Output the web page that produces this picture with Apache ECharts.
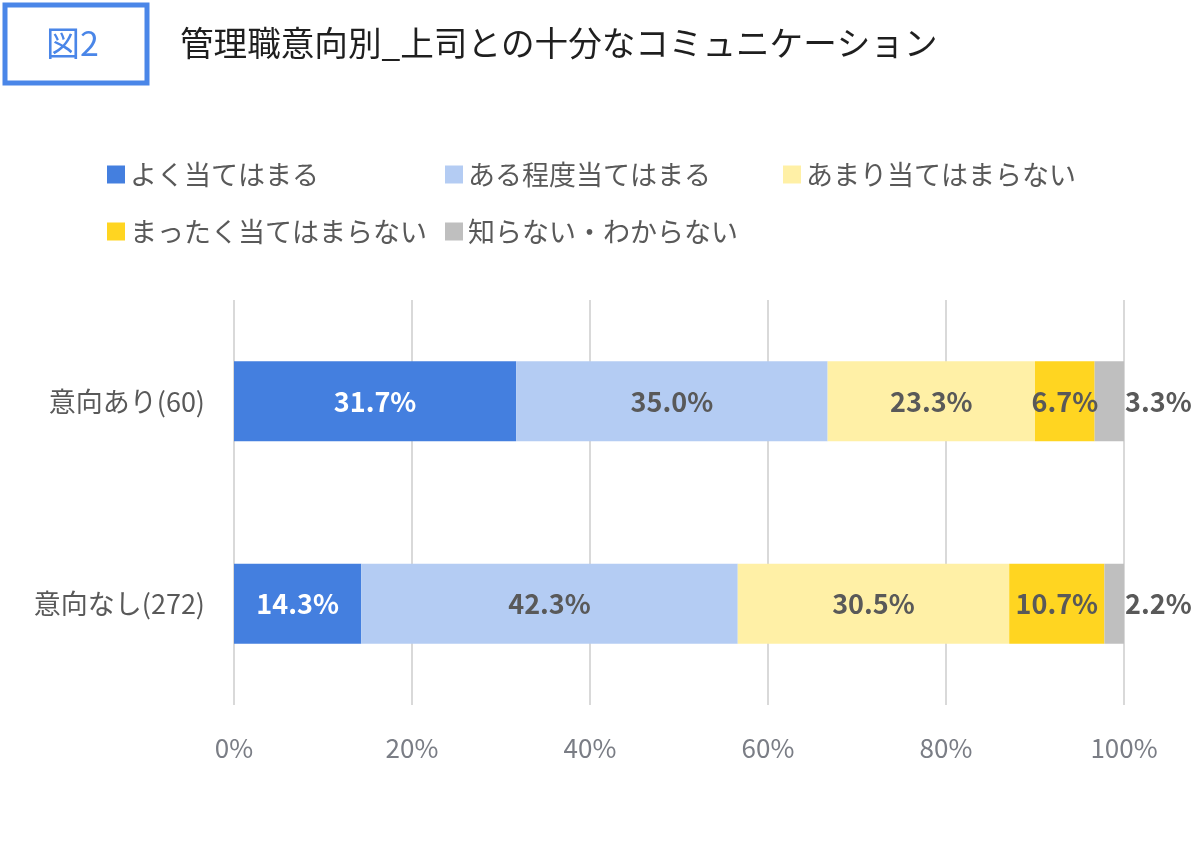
<!DOCTYPE html>
<html>
<head>
<meta charset="utf-8">
<script src="https://cdn.jsdelivr.net/npm/echarts@6/dist/echarts.min.js"></script>
<style>
  html, body { margin: 0; padding: 0; background: #fff; }
  #chart { width: 1200px; height: 856px; }
</style>
</head>
<body>
<div id="chart"></div>
<script>
// カテゴリ（上から順）
var categories = ['意向あり(60)', '意向なし(272)'];

// 回答の選択肢
var seriesNames = ['よく当てはまる', 'ある程度当てはまる', 'あまり当てはまらない', 'まったく当てはまらない', '知らない・わからない'];

// 各選択肢の割合（%）
var veryTrue = [31.7, 14.3];
var someTrue = [35.0, 42.3];
var notMuch = [23.3, 30.5];
var notAtAll = [6.7, 10.7];
var dontKnow = [3.3, 2.2];

var xTicks = [0, 20, 40, 60, 80, 100];

var colors = ['#447fdf', '#b4ccf3', '#fff0a6', '#ffd521', '#bfbfbf'];
var FONT = '"Noto Sans CJK JP", "Noto Sans", sans-serif';

var chart = echarts.init(document.getElementById('chart'));

var values = [veryTrue, someTrue, notMuch, notAtAll, dontKnow];

var series = values.map(function (arr, i) {
    var last = i === values.length - 1;
    return {
        name: seriesNames[i],
        type: 'bar',
        stack: 'total',
        barWidth: 80,
        data: arr,
        itemStyle: { color: colors[i] },
        label: {
            show: true,
            position: last ? 'right' : 'inside',
            distance: 1,
            formatter: function (p) { return p.value.toFixed(1) + '%'; },
            color: i === 0 ? '#ffffff' : '#595959',
            fontFamily: FONT,
            fontWeight: 'bold',
            fontSize: 27
        }
    };
});

// 凡例は1項目ずつ並べる
var legendPos = [[107, 161], [445, 161], [783, 161], [107, 218], [445, 218]];
var legends = seriesNames.map(function (name, i) {
    return {
        data: [name],
        left: legendPos[i][0],
        top: legendPos[i][1],
        padding: 0,
        itemWidth: 18,
        itemHeight: 18,
        icon: 'rect',
        textStyle: { fontFamily: FONT, fontSize: 27, color: '#595959' },
        selectedMode: false
    };
});

chart.setOption({
    animation: false,
    backgroundColor: '#ffffff',
    graphic: [
        {
            type: 'rect',
            shape: { x: 5, y: 5, width: 142, height: 78 },
            style: { fill: '#ffffff', stroke: '#4a86e8', lineWidth: 5 }
        },
        {
            type: 'text',
            left: 46,
            top: 26,
            style: { text: '図2', fill: '#4a86e8', font: '34px ' + FONT }
        },
        {
            type: 'text',
            left: 180,
            top: 26,
            style: { text: '管理職意向別_上司との十分なコミュニケーション', fill: '#1f1f1f', font: '33.6px ' + FONT }
        }
    ],
    legend: legends,
    grid: { left: 234, right: 76, top: 300, bottom: 151 },
    xAxis: {
        type: 'value',
        min: xTicks[0],
        max: xTicks[xTicks.length - 1],
        interval: 20,
        axisLine: { show: false },
        axisTick: { show: false },
        splitLine: { lineStyle: { color: '#d9d9d9', width: 2 } },
        axisLabel: {
            margin: 30,
            formatter: '{value}%',
            color: '#7a7d85',
            fontFamily: FONT,
            fontSize: 26
        }
    },
    yAxis: {
        type: 'category',
        data: categories,
        inverse: true,
        axisLine: { show: false },
        axisTick: { show: false },
        axisLabel: {
            margin: 29,
            color: '#595959',
            fontFamily: FONT,
            fontSize: 27
        }
    },
    series: series
});
</script>
</body>
</html>
